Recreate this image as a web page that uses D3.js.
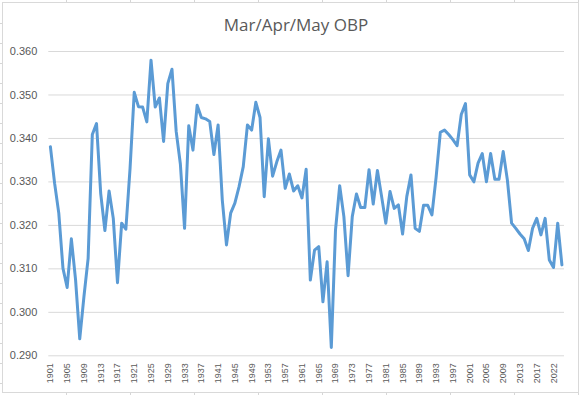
<!DOCTYPE html>
<html>
<head>
<meta charset="utf-8">
<script src="https://cdn.jsdelivr.net/npm/d3@7"></script>
<style>
  body { margin: 0; background: #fff; }
  svg { display: block; }
</style>
</head>
<body>
<script>
// seasons (2020 has no Mar/Apr/May games)
var YEARS = [
  1901, 1902, 1903, 1904, 1905, 1906, 1907, 1908, 1909, 1910,
  1911, 1912, 1913, 1914, 1915, 1916, 1917, 1918, 1919, 1920,
  1921, 1922, 1923, 1924, 1925, 1926, 1927, 1928, 1929, 1930,
  1931, 1932, 1933, 1934, 1935, 1936, 1937, 1938, 1939, 1940,
  1941, 1942, 1943, 1944, 1945, 1946, 1947, 1948, 1949, 1950,
  1951, 1952, 1953, 1954, 1955, 1956, 1957, 1958, 1959, 1960,
  1961, 1962, 1963, 1964, 1965, 1966, 1967, 1968, 1969, 1970,
  1971, 1972, 1973, 1974, 1975, 1976, 1977, 1978, 1979, 1980,
  1981, 1982, 1983, 1984, 1985, 1986, 1987, 1988, 1989, 1990,
  1991, 1992, 1993, 1994, 1995, 1996, 1997, 1998, 1999, 2000,
  2001, 2002, 2003, 2004, 2005, 2006, 2007, 2008, 2009, 2010,
  2011, 2012, 2013, 2014, 2015, 2016, 2017, 2018, 2019,
  2021, 2022, 2023, 2024
];

var OBP = [
  0.3380, 0.3296, 0.3227, 0.3100, 0.3056, 0.3168, 0.3074, 0.2938, 0.3035, 0.3123,
  0.3408, 0.3433, 0.3272, 0.3187, 0.3278, 0.3215, 0.3067, 0.3204, 0.3190, 0.3330,
  0.3505, 0.3472, 0.3471, 0.3437, 0.3579, 0.3471, 0.3492, 0.3392, 0.3525, 0.3558,
  0.3415, 0.3340, 0.3192, 0.3428, 0.3372, 0.3475, 0.3447, 0.3444, 0.3438, 0.3362,
  0.3430, 0.3257, 0.3154, 0.3227, 0.3250, 0.3288, 0.3334, 0.3430, 0.3418, 0.3482,
  0.3447, 0.3265, 0.3398, 0.3312, 0.3345, 0.3372, 0.3284, 0.3317, 0.3278, 0.3290,
  0.3262, 0.3328, 0.3073, 0.3142, 0.3150, 0.3023, 0.3115, 0.2918, 0.3188, 0.3290,
  0.3219, 0.3083, 0.3219, 0.3271, 0.3240, 0.3240, 0.3327, 0.3248, 0.3325, 0.3265,
  0.3204, 0.3277, 0.3238, 0.3246, 0.3179, 0.3265, 0.3315, 0.3192, 0.3185, 0.3245,
  0.3245, 0.3223, 0.3310, 0.3413, 0.3418, 0.3408, 0.3396, 0.3382, 0.3454, 0.3479,
  0.3315, 0.3299, 0.3342, 0.3364, 0.3299, 0.3364, 0.3305, 0.3305, 0.3369, 0.3303,
  0.3204, 0.3192, 0.3179, 0.3168, 0.3141, 0.3192, 0.3215, 0.3177, 0.3215,
  0.3119, 0.3102, 0.3204, 0.3108
];

var Y_TICKS = [0.290, 0.300, 0.310, 0.320, 0.330, 0.340, 0.350, 0.360];
var TITLE = "Mar/Apr/May OBP";

var W = 580, H = 395;
var plot = { left: 48.3, right: 564, top: 51, bottom: 355.3 };

var svg = d3.select("body").append("svg").attr("width", W).attr("height", H);

// spreadsheet cells peeking out around the chart
var sheet = svg.append("g").attr("stroke", "#d6d6d6").attr("stroke-width", 1);
d3.range(66, W, 64).forEach(function (x) {
  sheet.append("line").attr("x1", x + 0.5).attr("x2", x + 0.5).attr("y1", 0).attr("y2", 3);
  sheet.append("line").attr("x1", x + 0.5).attr("x2", x + 0.5).attr("y1", 393).attr("y2", H);
});
d3.range(23, H, 20).forEach(function (y) {
  sheet.append("line").attr("x1", 0).attr("x2", 2).attr("y1", y + 0.5).attr("y2", y + 0.5);
});

// chart area
svg.append("rect").attr("x", 2.5).attr("y", 2.5).attr("width", 576).attr("height", 390)
  .attr("fill", "#fff").attr("stroke", "#d9d9d9").attr("stroke-width", 1);

svg.append("text").attr("x", 296).attr("y", 31).attr("text-anchor", "middle")
  .attr("font-family", "'Open Sans', 'Liberation Sans', Arial, sans-serif")
  .attr("font-size", 17).attr("fill", "#595959").text(TITLE);

// scales
var x = d3.scaleBand().domain(YEARS).range([plot.left, plot.right]);
var y = d3.scaleLinear().domain([0.290, 0.360]).range([plot.bottom, plot.top]);

// y gridlines + labels
var yAxis = svg.append("g").attr("class", "y-axis")
  .attr("transform", "translate(" + plot.left + ",0)")
  .call(d3.axisLeft(y).tickValues(Y_TICKS).tickFormat(d3.format(".3f"))
    .tickSize(-(plot.right - plot.left)).tickPadding(11));
yAxis.select(".domain").remove();
yAxis.selectAll(".tick line").attr("stroke", "#d9d9d9");
yAxis.selectAll(".tick text").attr("fill", "#595959")
  .attr("font-family", "'Liberation Sans', Arial, sans-serif").attr("font-size", 11);

// x labels, every 4th season
var xLabels = YEARS.filter(function (d, i) { return i % 4 === 0; });
var xAxis = svg.append("g").attr("class", "x-axis")
  .attr("transform", "translate(0," + plot.bottom + ")")
  .call(d3.axisBottom(x).tickValues(xLabels).tickSize(0).tickPadding(0));
xAxis.select(".domain").remove();
xAxis.selectAll(".tick text")
  .attr("transform", "rotate(-90)")
  .attr("text-anchor", "end")
  .attr("x", -8).attr("y", 0).attr("dy", "0.33em")
  .attr("fill", "#595959")
  .attr("font-family", "'Liberation Sans', Arial, sans-serif").attr("font-size", 9);

// the line
var line = d3.line()
  .x(function (d, i) { return x(YEARS[i]) + x.bandwidth() / 2; })
  .y(function (d) { return y(d); });

svg.append("path").datum(OBP)
  .attr("d", line)
  .attr("fill", "none")
  .attr("stroke", "#5b9bd5")
  .attr("stroke-width", 3)
  .attr("stroke-linejoin", "round")
  .attr("stroke-linecap", "round");
</script>
</body>
</html>
